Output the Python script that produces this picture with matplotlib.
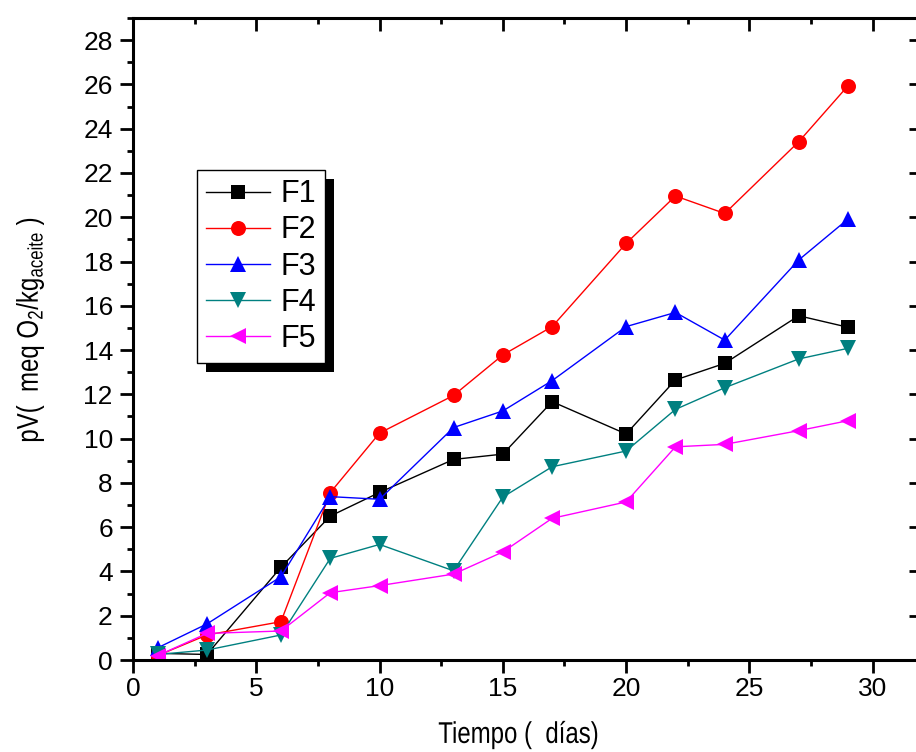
import matplotlib
matplotlib.use('Agg')
import matplotlib.pyplot as plt
from matplotlib.ticker import MultipleLocator
from matplotlib.patches import Rectangle, PathPatch
from matplotlib.transforms import IdentityTransform, Affine2D
from matplotlib.textpath import TextPath
from matplotlib.font_manager import FontProperties

plt.rcParams['font.family'] = ['Liberation Sans', 'DejaVu Sans']
plt.rcParams['mathtext.fontset'] = 'custom'
plt.rcParams['mathtext.rm'] = 'Liberation Sans'
plt.rcParams['mathtext.it'] = 'Liberation Sans'

# data (dias de almacenamiento vs indice de peroxidos)
dias = [1, 3, 6, 8, 10, 13, 15, 17, 20, 22, 24, 27, 29]
f1 = [0.3, 0.25, 4.19, 6.5, 7.57, 9.06, 9.3, 11.67, 10.21, 12.65, 13.4, 15.55, 15.03]
f2 = [0.2, 1.13, 1.73, 7.56, 10.25, 11.95, 13.78, 15.06, 18.82, 20.96, 20.17, 23.41, 25.94]
f3 = [0.55, 1.63, 3.76, 7.38, 7.26, 10.5, 11.25, 12.62, 15.06, 15.7, 14.45, 18.07, 19.92]
f4 = [0.25, 0.45, 1.13, 4.59, 5.22, 4.03, 7.36, 8.73, 9.44, 11.32, 12.3, 13.6, 14.08]
f5 = [0.2, 1.2, 1.31, 3.04, 3.36, 3.88, 4.88, 6.4, 7.14, 9.63, 9.74, 10.36, 10.81]

xlabel = 'Tiempo (  días)'
ylabel = r'pV(  meq O$_\mathrm{2}$/kg$_\mathrm{aceite}$ )'

series = [
    ('F1', f1, 'black', 's', 9.4),
    ('F2', f2, '#ff0000', 'o', 10.8),
    ('F3', f3, '#0000ff', '^', 12),
    ('F4', f4, '#008080', 'v', 12),
    ('F5', f5, '#ff00ff', '<', 12),
]

W, H = 916, 752
fig = plt.figure(figsize=(W / 100, H / 100), dpi=100)
ax = fig.add_axes([133 / W, 92 / H, 789 / W, 642 / H])

for name, vals, col, mk, ms in series:
    ax.plot(dias, vals, color=col, marker=mk, markersize=ms, linewidth=1.0,
            markeredgewidth=0, label=name)

ax.set_xlim(0, 32)
ax.set_ylim(0, 29)
ax.xaxis.set_major_locator(MultipleLocator(5))
ax.xaxis.set_minor_locator(MultipleLocator(2.5))
ax.yaxis.set_major_locator(MultipleLocator(2))
ax.yaxis.set_minor_locator(MultipleLocator(1))

for s in ax.spines.values():
    s.set_linewidth(2.2)

ax.tick_params(which='both', direction='out', width=2, labelsize=19)
ax.tick_params(which='major', length=9.5)
ax.tick_params(which='minor', length=4.5)
ax.tick_params(axis='y', pad=5)
ax.tick_params(axis='x', pad=3)
ax.tick_params(which='both', top=True, right=True)
# ticks on top/right go inward
for t in ax.xaxis.get_major_ticks() + ax.xaxis.get_minor_ticks():
    t.tick2line.set_marker(3)
for t in ax.yaxis.get_major_ticks() + ax.yaxis.get_minor_ticks():
    t.tick2line.set_marker(0)


def narrow_text(s, cx, cy, size=30, sx=0.8, rot=0):
    # condensed text drawn as a path, centred at image pixel (cx, cy)
    tp = TextPath((0, 0), s, size=size, prop=FontProperties(family='Liberation Sans'))
    ext = tp.get_extents()
    tr = (Affine2D().translate(-(ext.x0 + ext.x1) / 2, -(ext.y0 + ext.y1) / 2)
          .scale(sx, 1).rotate_deg(rot).translate(cx, H - cy))
    fig.add_artist(PathPatch(tp, transform=tr + IdentityTransform(),
                             facecolor='black', edgecolor='none'))


narrow_text(xlabel, 518, 735)
narrow_text(ylabel, 30, 330, rot=90)

leg = ax.legend(loc='upper left', bbox_to_anchor=(0.081, 0.763), fontsize=22,
                frameon=True, fancybox=False, edgecolor='black', framealpha=1,
                numpoints=1, handlelength=2.1, handletextpad=0.33,
                borderpad=0.3, labelspacing=0.2, borderaxespad=0)
leg.get_frame().set_linewidth(1.0)
leg.set_zorder(6)

fig.canvas.draw()
bb = leg.get_frame().get_window_extent()
shadow = Rectangle((bb.x0 + 9, bb.y0 - 9), bb.width, bb.height,
                   transform=IdentityTransform(), facecolor='black',
                   edgecolor='none', zorder=5.5, clip_on=False)
ax.add_artist(shadow)

fig.savefig('out.png', dpi=100)
